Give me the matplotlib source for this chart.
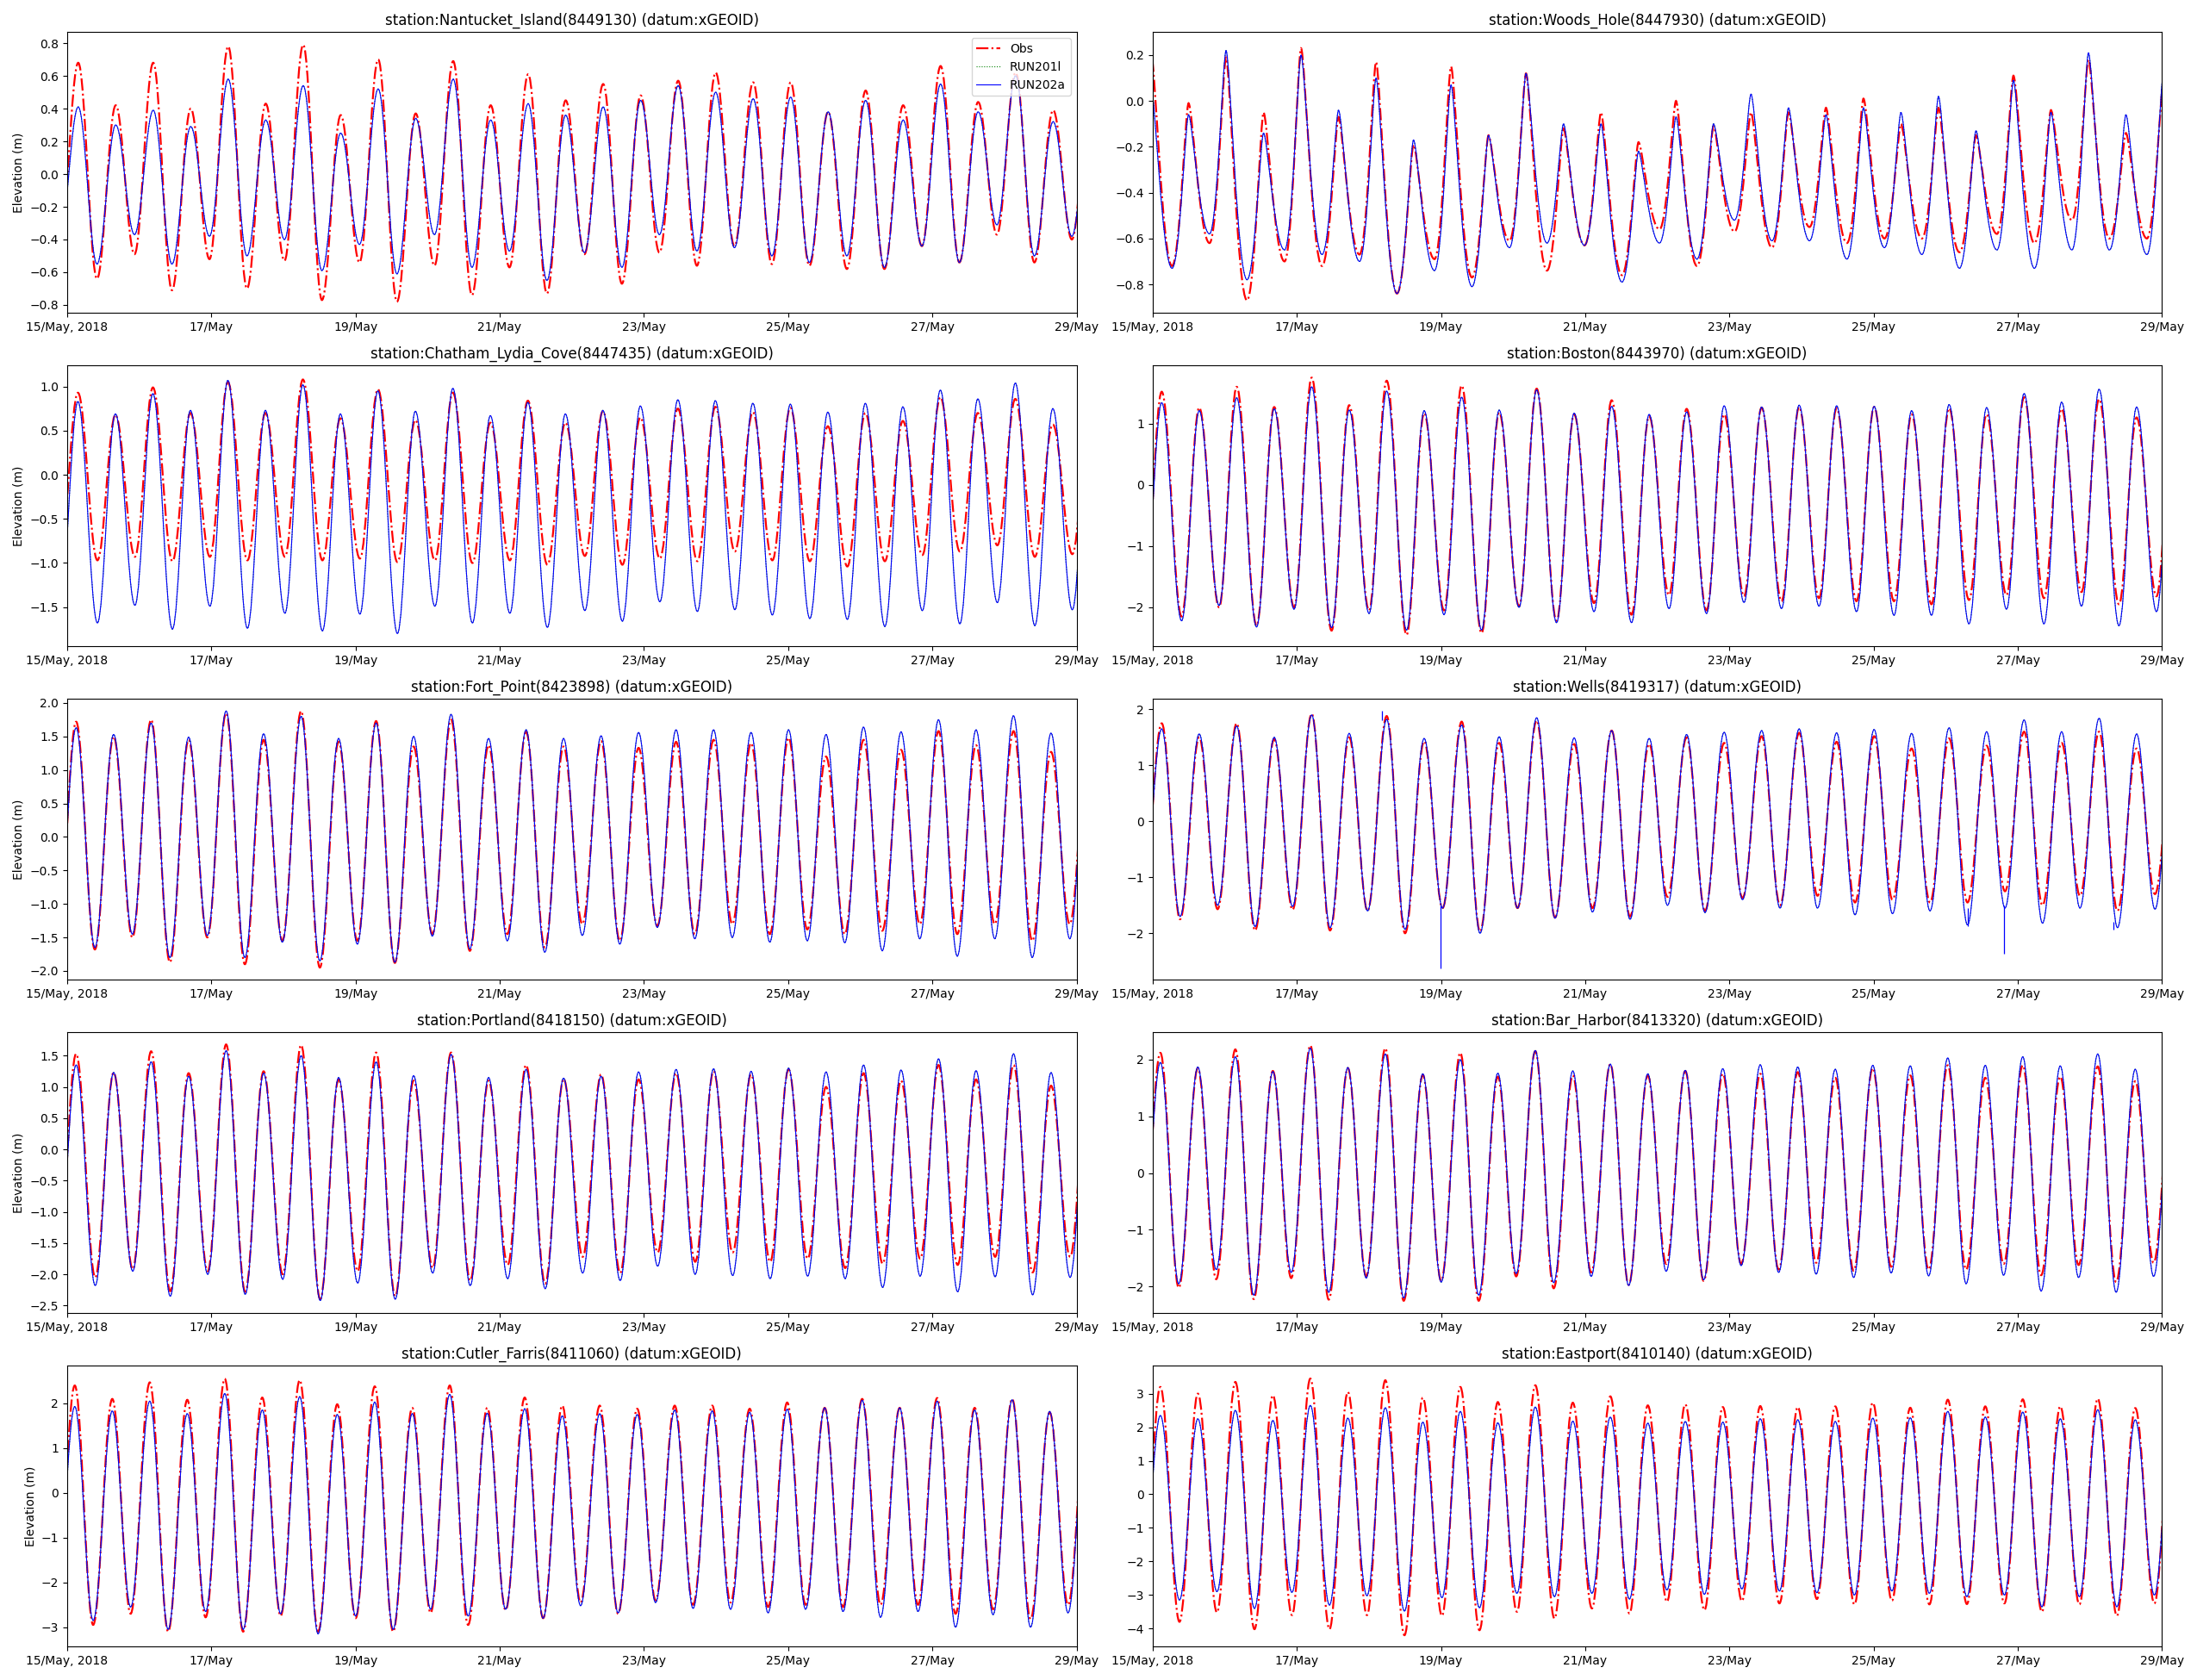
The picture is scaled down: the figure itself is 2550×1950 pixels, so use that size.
import datetime
import matplotlib
matplotlib.use("Agg")
import matplotlib.pyplot as plt
import matplotlib.dates as mdates
from matplotlib.path import Path
from matplotlib.patches import PathPatch
from matplotlib.lines import Line2D

# ---------- stations ----------
station_names = ["Nantucket_Island", "Woods_Hole", "Chatham_Lydia_Cove", "Boston", "Fort_Point",
                 "Wells", "Portland", "Bar_Harbor", "Cutler_Farris", "Eastport"]
station_ids = ["8449130", "8447930", "8447435", "8443970", "8423898",
               "8419317", "8418150", "8413320", "8411060", "8410140"]

# hour (after 15/May 00:00) of first high water, and where the low sits between two highs
first_high_hours = [3.7, -0.5, 3.6, 3.05, 3.0, 3.05, 3.0, 2.6, 2.55, 2.6]
low_fraction = [0.5, 0.56, 0.52, 0.53, 0.5, 0.49, 0.51, 0.49, 0.49, 0.51]
# curve shape near highs / lows (Woods Hole has sharp highs and broad lows)
high_round = [0.364, 0.18, 0.364, 0.364, 0.364, 0.364, 0.364, 0.364, 0.364, 0.364]
low_round = [0.364, 0.46, 0.364, 0.364, 0.364, 0.364, 0.364, 0.364, 0.364, 0.364]
tide_period_h = 12.48

# high / low water levels (m); lows start with the one before 15/May
nantucket_obs_hi = [0.68, 0.42, 0.68, 0.40, 0.78, 0.43, 0.79, 0.36, 0.70, 0.37, 0.69, 0.42, 0.61, 0.45,
                    0.55, 0.48, 0.57, 0.62, 0.56, 0.56, 0.38, 0.51, 0.42, 0.66, 0.44, 0.62, 0.39, 0.55]
nantucket_obs_lo = [-0.45, -0.64, -0.49, -0.71, -0.52, -0.70, -0.53, -0.77, -0.54, -0.78, -0.56, -0.74, -0.57, -0.73,
                    -0.49, -0.67, -0.48, -0.56, -0.44, -0.55, -0.56, -0.58, -0.58, -0.44, -0.54, -0.37, -0.54, -0.40]
nantucket_run_hi = [0.41, 0.30, 0.39, 0.29, 0.58, 0.33, 0.54, 0.25, 0.52, 0.34, 0.58, 0.33, 0.43, 0.36,
                    0.41, 0.45, 0.54, 0.50, 0.46, 0.47, 0.38, 0.45, 0.33, 0.55, 0.38, 0.60, 0.32, 0.45]
nantucket_run_lo = [-0.40, -0.55, -0.37, -0.55, -0.38, -0.50, -0.40, -0.59, -0.43, -0.61, -0.37, -0.57, -0.47, -0.65,
                    -0.48, -0.57, -0.37, -0.47, -0.45, -0.50, -0.54, -0.50, -0.57, -0.44, -0.54, -0.31, -0.50, -0.38]

woods_obs_hi = [0.21, -0.01, 0.19, -0.05, 0.23, -0.07, 0.17, -0.19, 0.15, -0.15, 0.12, -0.12, -0.05, -0.18,
                0.00, -0.11, -0.05, -0.05, -0.03, 0.01, -0.10, -0.03, -0.15, 0.11, -0.04, 0.18, -0.14, 0.08]
woods_obs_lo = [-0.55, -0.72, -0.62, -0.87, -0.70, -0.72, -0.67, -0.84, -0.69, -0.77, -0.61, -0.74, -0.63, -0.76,
                -0.56, -0.72, -0.57, -0.64, -0.55, -0.62, -0.60, -0.60, -0.66, -0.58, -0.62, -0.52, -0.60, -0.60]
woods_run_hi = [0.06, -0.06, 0.22, -0.14, 0.20, -0.04, 0.10, -0.17, 0.07, -0.15, 0.12, -0.10, -0.10, -0.22,
                -0.07, -0.10, 0.03, -0.03, -0.06, -0.03, -0.05, 0.02, -0.13, 0.09, -0.05, 0.21, -0.06, 0.12]
woods_run_lo = [-0.55, -0.73, -0.58, -0.78, -0.65, -0.67, -0.70, -0.84, -0.74, -0.81, -0.64, -0.62, -0.63, -0.79,
                -0.62, -0.69, -0.52, -0.61, -0.61, -0.69, -0.64, -0.67, -0.73, -0.65, -0.73, -0.65, -0.65, -0.67]

chatham_obs_hi = [0.93, 0.68, 0.99, 0.70, 1.05, 0.70, 1.08, 0.64, 0.97, 0.62, 0.93, 0.59, 0.84, 0.59,
                  0.72, 0.65, 0.75, 0.77, 0.71, 0.76, 0.55, 0.70, 0.61, 0.88, 0.70, 0.86, 0.57, 0.80]
chatham_obs_lo = [-0.90, -0.97, -0.93, -0.98, -0.93, -0.97, -0.93, -0.97, -0.95, -0.99, -0.97, -1.00, -0.97, -1.02,
                  -0.92, -1.02, -0.95, -0.98, -0.87, -0.97, -0.98, -1.04, -0.98, -0.91, -0.87, -0.80, -0.93, -0.90]
chatham_run_hi = [0.83, 0.69, 0.92, 0.73, 1.07, 0.73, 1.02, 0.69, 0.95, 0.72, 0.98, 0.67, 0.82, 0.69,
                  0.73, 0.78, 0.85, 0.84, 0.81, 0.80, 0.71, 0.81, 0.77, 0.96, 0.86, 1.04, 0.75, 0.90]
chatham_run_lo = [-1.50, -1.68, -1.48, -1.75, -1.49, -1.74, -1.57, -1.77, -1.58, -1.80, -1.49, -1.68, -1.57, -1.73,
                  -1.54, -1.66, -1.44, -1.55, -1.53, -1.59, -1.63, -1.64, -1.72, -1.54, -1.69, -1.45, -1.71, -1.53]

boston_obs_hi = [1.52, 1.26, 1.60, 1.27, 1.75, 1.30, 1.70, 1.17, 1.62, 1.18, 1.57, 1.15, 1.38, 1.12,
                 1.24, 1.15, 1.26, 1.27, 1.25, 1.27, 1.15, 1.25, 1.15, 1.43, 1.24, 1.40, 1.10, 1.40]
boston_obs_lo = [-1.90, -2.15, -2.00, -2.30, -2.00, -2.38, -2.05, -2.45, -2.05, -2.42, -1.98, -2.22, -1.93, -2.12,
                 -1.80, -2.05, -1.82, -1.90, -1.85, -1.90, -1.90, -1.95, -1.88, -1.80, -1.85, -1.75, -1.95, -1.82]
boston_run_hi = [1.34, 1.21, 1.42, 1.24, 1.60, 1.22, 1.53, 1.21, 1.43, 1.22, 1.55, 1.17, 1.28, 1.15,
                 1.19, 1.29, 1.27, 1.30, 1.29, 1.28, 1.21, 1.31, 1.26, 1.49, 1.35, 1.56, 1.27, 1.50]
boston_run_lo = [-2.00, -2.22, -1.97, -2.32, -2.03, -2.33, -2.10, -2.37, -2.12, -2.37, -2.00, -2.25, -2.07, -2.25,
                 -2.02, -2.10, -1.92, -2.02, -1.98, -2.07, -2.13, -2.13, -2.27, -2.03, -2.27, -1.98, -2.30, -2.07]

fortpoint_obs_hi = [1.72, 1.50, 1.75, 1.45, 1.85, 1.45, 1.88, 1.42, 1.73, 1.35, 1.75, 1.37, 1.57, 1.35,
                    1.43, 1.33, 1.42, 1.45, 1.40, 1.48, 1.20, 1.45, 1.30, 1.58, 1.37, 1.58, 1.27, 1.50]
fortpoint_obs_lo = [-1.60, -1.68, -1.50, -1.87, -1.50, -1.90, -1.55, -1.95, -1.55, -1.88, -1.45, -1.70, -1.45, -1.65,
                    -1.30, -1.55, -1.33, -1.45, -1.30, -1.45, -1.38, -1.45, -1.40, -1.30, -1.45, -1.30, -1.55, -1.30]
fortpoint_run_hi = [1.63, 1.53, 1.70, 1.49, 1.88, 1.54, 1.80, 1.47, 1.70, 1.50, 1.83, 1.47, 1.60, 1.47,
                    1.51, 1.56, 1.60, 1.60, 1.56, 1.60, 1.53, 1.64, 1.57, 1.75, 1.60, 1.81, 1.55, 1.70]
fortpoint_run_lo = [-1.60, -1.65, -1.45, -1.80, -1.47, -1.80, -1.57, -1.85, -1.60, -1.87, -1.48, -1.67, -1.55, -1.72,
                    -1.47, -1.60, -1.35, -1.52, -1.50, -1.57, -1.55, -1.58, -1.70, -1.52, -1.78, -1.52, -1.80, -1.52]

wells_obs_hi = [1.75, 1.50, 1.75, 1.47, 1.92, 1.50, 1.88, 1.43, 1.78, 1.40, 1.80, 1.38, 1.62, 1.38,
                1.50, 1.40, 1.52, 1.58, 1.42, 1.52, 1.30, 1.48, 1.35, 1.60, 1.40, 1.60, 1.30, 1.50]
wells_obs_lo = [-1.50, -1.75, -1.57, -1.95, -1.58, -1.95, -1.60, -2.00, -1.55, -1.97, -1.55, -1.72, -1.55, -1.70,
                -1.35, -1.60, -1.37, -1.50, -1.33, -1.45, -1.40, -1.45, -1.45, -1.25, -1.50, -1.33, -1.60, -1.30]
wells_run_hi = [1.65, 1.56, 1.70, 1.50, 1.90, 1.57, 1.82, 1.48, 1.72, 1.51, 1.85, 1.49, 1.62, 1.48,
                1.55, 1.59, 1.62, 1.65, 1.58, 1.64, 1.57, 1.67, 1.60, 1.81, 1.60, 1.84, 1.56, 1.70]
wells_run_lo = [-1.50, -1.70, -1.50, -1.88, -1.52, -1.90, -1.60, -1.93, -1.55, -2.00, -1.55, -1.73, -1.62, -1.75,
                -1.50, -1.63, -1.40, -1.55, -1.55, -1.67, -1.65, -1.60, -1.85, -1.55, -1.82, -1.55, -1.90, -1.57]
# short spikes in the RUN202a series at Wells (hour, from, to)
wells_spike_hours = [76.4, 95.9, 271.4, 283.4, 319.9]
wells_spike_from = [1.80, -1.50, -1.55, -1.50, -1.80]
wells_spike_to = [1.97, -2.62, -1.88, -2.36, -1.93]

portland_obs_hi = [1.53, 1.23, 1.57, 1.22, 1.68, 1.25, 1.67, 1.12, 1.55, 1.10, 1.55, 1.10, 1.35, 1.13,
                   1.20, 1.12, 1.22, 1.25, 1.20, 1.28, 1.00, 1.22, 1.10, 1.35, 1.12, 1.35, 1.02, 1.30]
portland_obs_lo = [-1.90, -2.05, -1.92, -2.27, -1.95, -2.28, -2.00, -2.40, -1.95, -2.35, -1.90, -2.10, -1.85, -2.15,
                   -1.72, -1.98, -1.65, -1.80, -1.65, -1.80, -1.75, -1.90, -1.83, -1.75, -1.85, -1.72, -1.97, -1.72]
portland_run_hi = [1.35, 1.23, 1.40, 1.17, 1.58, 1.22, 1.50, 1.15, 1.40, 1.18, 1.52, 1.15, 1.28, 1.14,
                   1.17, 1.24, 1.28, 1.29, 1.25, 1.30, 1.24, 1.35, 1.27, 1.45, 1.26, 1.53, 1.23, 1.40]
portland_run_lo = [-2.00, -2.18, -1.95, -2.35, -2.00, -2.32, -2.08, -2.42, -2.14, -2.40, -1.98, -2.18, -2.07, -2.23,
                   -1.98, -2.10, -1.87, -2.00, -2.02, -2.07, -2.03, -2.07, -2.21, -2.03, -2.28, -2.04, -2.33, -2.05]

barharbor_obs_hi = [2.12, 1.85, 2.18, 1.80, 2.25, 1.85, 2.20, 1.73, 2.12, 1.70, 2.15, 1.72, 1.92, 1.72,
                    1.80, 1.75, 1.75, 1.78, 1.68, 1.85, 1.72, 1.90, 1.68, 1.90, 1.70, 1.88, 1.62, 1.80]
barharbor_obs_lo = [-1.80, -2.02, -1.87, -2.22, -1.85, -2.23, -1.82, -2.25, -1.90, -2.25, -1.82, -2.03, -1.75, -1.97,
                    -1.60, -1.90, -1.60, -1.70, -1.58, -1.72, -1.65, -1.70, -1.70, -1.60, -1.80, -1.62, -1.92, -1.58]
barharbor_run_hi = [1.95, 1.87, 2.05, 1.79, 2.20, 1.86, 2.10, 1.75, 2.00, 1.76, 2.16, 1.80, 1.92, 1.75,
                    1.81, 1.84, 1.91, 1.87, 1.83, 1.90, 1.89, 2.03, 1.90, 2.05, 1.89, 2.10, 1.83, 1.90]
barharbor_run_lo = [-1.80, -1.95, -1.70, -2.15, -1.75, -2.10, -1.85, -2.20, -1.92, -2.15, -1.77, -1.93, -1.82, -1.98,
                    -1.73, -1.88, -1.63, -1.75, -1.78, -1.84, -1.76, -1.81, -1.95, -1.80, -2.08, -1.84, -2.10, -1.82]

cutler_obs_hi = [2.40, 2.10, 2.47, 2.08, 2.55, 2.13, 2.52, 1.98, 2.38, 1.90, 2.40, 1.90, 2.13, 1.95,
                 1.95, 1.88, 1.95, 1.95, 1.88, 2.02, 1.90, 2.10, 1.90, 2.12, 1.90, 2.10, 1.80, 2.00]
cutler_obs_lo = [-2.70, -2.95, -2.70, -3.10, -2.78, -3.10, -2.75, -3.10, -2.80, -3.10, -2.68, -2.95, -2.62, -2.80,
                 -2.45, -2.70, -2.40, -2.50, -2.45, -2.55, -2.50, -2.55, -2.50, -2.50, -2.70, -2.60, -2.82, -2.50]
cutler_run_hi = [1.93, 1.83, 2.05, 1.77, 2.22, 1.85, 2.15, 1.75, 2.03, 1.77, 2.20, 1.78, 1.88, 1.72,
                 1.77, 1.75, 1.85, 1.83, 1.80, 1.87, 1.90, 2.07, 1.90, 2.05, 1.85, 2.08, 1.82, 2.00]
cutler_run_lo = [-2.70, -2.85, -2.55, -3.05, -2.65, -3.05, -2.70, -3.15, -2.75, -3.05, -2.60, -2.75, -2.60, -2.80,
                 -2.52, -2.68, -2.45, -2.58, -2.60, -2.68, -2.60, -2.65, -2.78, -2.65, -3.00, -2.72, -3.00, -2.68]

eastport_obs_hi = [3.20, 3.00, 3.35, 2.95, 3.45, 3.05, 3.40, 2.88, 3.20, 2.75, 3.25, 2.73, 2.92, 2.65,
                   2.68, 2.60, 2.63, 2.60, 2.62, 2.73, 2.58, 2.82, 2.62, 2.83, 2.62, 2.85, 2.57, 2.80]
eastport_obs_lo = [-3.30, -3.80, -3.52, -4.02, -3.60, -4.02, -3.60, -4.20, -3.62, -4.05, -3.50, -3.70, -3.40, -3.55,
                   -3.20, -3.45, -3.18, -3.25, -3.12, -3.28, -3.17, -3.28, -3.27, -3.25, -3.50, -3.28, -3.62, -3.25]
eastport_run_hi = [2.35, 2.25, 2.50, 2.20, 2.65, 2.27, 2.58, 2.15, 2.47, 2.13, 2.60, 2.18, 2.30, 2.12,
                   2.17, 2.15, 2.25, 2.22, 2.17, 2.27, 2.28, 2.47, 2.30, 2.45, 2.25, 2.52, 2.22, 2.40]
eastport_run_lo = [-2.80, -3.15, -2.90, -3.40, -2.92, -3.30, -3.02, -3.48, -3.08, -3.38, -2.95, -3.05, -2.95, -3.12,
                   -2.85, -2.98, -2.82, -2.88, -2.93, -3.00, -2.88, -2.95, -3.05, -3.00, -3.35, -3.05, -3.35, -3.00]

obs_hi = [nantucket_obs_hi, woods_obs_hi, chatham_obs_hi, boston_obs_hi, fortpoint_obs_hi,
          wells_obs_hi, portland_obs_hi, barharbor_obs_hi, cutler_obs_hi, eastport_obs_hi]
obs_lo = [nantucket_obs_lo, woods_obs_lo, chatham_obs_lo, boston_obs_lo, fortpoint_obs_lo,
          wells_obs_lo, portland_obs_lo, barharbor_obs_lo, cutler_obs_lo, eastport_obs_lo]
run_hi = [nantucket_run_hi, woods_run_hi, chatham_run_hi, boston_run_hi, fortpoint_run_hi,
          wells_run_hi, portland_run_hi, barharbor_run_hi, cutler_run_hi, eastport_run_hi]
run_lo = [nantucket_run_lo, woods_run_lo, chatham_run_lo, boston_run_lo, fortpoint_run_lo,
          wells_run_lo, portland_run_lo, barharbor_run_lo, cutler_run_lo, eastport_run_lo]
# RUN201l sits right under RUN202a on every panel
run201_hi = run_hi
run201_lo = run_lo

y_limits = [(-0.849, 0.867), (-0.925, 0.300), (-1.946, 1.238), (-2.638, 1.947), (-2.133, 2.060),
            (-2.832, 2.185), (-2.624, 1.873), (-2.470, 2.480), (-3.436, 2.840), (-4.540, 3.830)]

start = datetime.datetime(2018, 5, 15)
end = datetime.datetime(2018, 5, 29)
t_start = mdates.date2num(start)


def tide_path(hi, lo, t_hi0, frac, r_hi, r_lo):
    # extrema in time order: low, high, low, high ...
    pts = []
    for k, (h, l) in enumerate(zip(hi, lo)):
        pts.append((t_start + (t_hi0 + (k - 1 + frac) * tide_period_h) / 24.0, l, r_lo))
        pts.append((t_start + (t_hi0 + k * tide_period_h) / 24.0, h, r_hi))
    verts = [pts[0][:2]]
    codes = [Path.MOVETO]
    for (x0, y0, r0), (x1, y1, r1) in zip(pts[:-1], pts[1:]):
        dx = x1 - x0
        verts += [(x0 + r0 * dx, y0), (x1 - r1 * dx, y1), (x1, y1)]
        codes += [Path.CURVE4] * 3
    return Path(verts, codes)


def date_label(x, pos):
    d = mdates.num2date(x)
    if d.day == 15:
        return d.strftime("%d/%b, %Y")
    return d.strftime("%d/%b")


fig, axes = plt.subplots(5, 2, figsize=(25.5, 19.5), facecolor="white")

for i, ax in enumerate(axes.flat):
    shape = (first_high_hours[i], low_fraction[i], high_round[i], low_round[i])
    ax.add_patch(PathPatch(tide_path(obs_hi[i], obs_lo[i], *shape),
                           fill=False, edgecolor="red", linestyle="-.", linewidth=1.6))
    ax.add_patch(PathPatch(tide_path(run201_hi[i], run201_lo[i], *shape),
                           fill=False, edgecolor="green", linestyle=":", linewidth=0.8))
    ax.add_patch(PathPatch(tide_path(run_hi[i], run_lo[i], *shape),
                           fill=False, edgecolor="blue", linestyle="-", linewidth=0.8))
    if station_names[i] == "Wells":
        spike_x = [t_start + h / 24.0 for h in wells_spike_hours]
        ax.vlines(spike_x, wells_spike_from, wells_spike_to, color="blue", linewidth=0.9)

    ax.set_xlim(mdates.date2num(start), mdates.date2num(end))
    ax.set_ylim(*y_limits[i])
    ax.xaxis.set_major_locator(mdates.DayLocator(interval=2))
    ax.xaxis.set_major_formatter(plt.FuncFormatter(date_label))
    ax.set_title("station:%s(%s) (datum:xGEOID)" % (station_names[i], station_ids[i]))
    if i % 2 == 0:
        ax.set_ylabel("Elevation (m)")

handles = [Line2D([], [], color="red", linestyle="-.", linewidth=1.6, label="Obs"),
           Line2D([], [], color="green", linestyle=":", linewidth=0.8, label="RUN201l"),
           Line2D([], [], color="blue", linestyle="-", linewidth=0.8, label="RUN202a")]
axes[0, 0].legend(handles=handles, loc="upper right")

plt.tight_layout()
plt.savefig("out.png", dpi=100)
